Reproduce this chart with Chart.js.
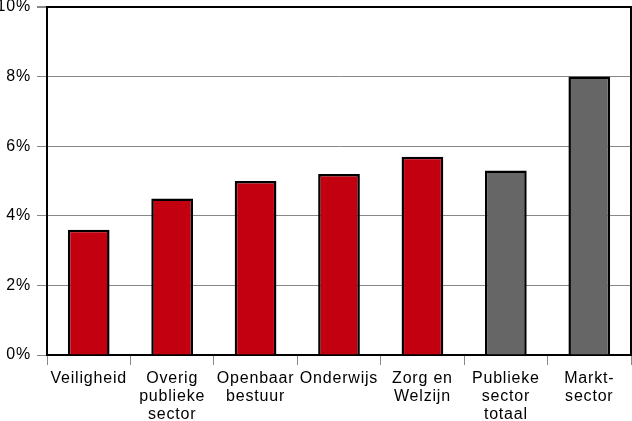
<!DOCTYPE html>
<html>
<head>
<meta charset="utf-8">
<script src="https://cdn.jsdelivr.net/npm/chart.js@4/dist/chart.umd.min.js"></script>
<style>
  html, body { margin: 0; padding: 0; background: #fff; }
  canvas { display: block; }
</style>
</head>
<body>
<canvas id="c" width="632" height="421"></canvas>
<script>
const categories = [
  'Veiligheid',
  ['Overig', 'publieke', 'sector'],
  ['Openbaar', 'bestuur'],
  'Onderwijs',
  ['Zorg en', 'Welzijn'],
  ['Publieke', 'sector', 'totaal'],
  ['Markt-', 'sector']
];
const values = [3.6, 4.5, 5.0, 5.2, 5.7, 5.3, 8.0];
const barColors = ['#c3000f', '#c3000f', '#c3000f', '#c3000f', '#c3000f', '#666666', '#666666'];
const yTicks = [0, 2, 4, 6, 8, 10];

const spacing = {
  id: 'spacing',
  beforeLayout(chart) { chart.ctx.letterSpacing = '0.8px'; },
  beforeDraw(chart) { chart.ctx.letterSpacing = '0.8px'; }
};

const font = { family: '"Liberation Sans", Arial, sans-serif', size: 16, lineHeight: 1.125 };

new Chart(document.getElementById('c'), {
  type: 'bar',
  data: {
    labels: categories,
    datasets: [{
      data: values,
      backgroundColor: barColors,
      borderColor: '#000',
      borderWidth: 2.5,
      categoryPercentage: 1,
      barPercentage: 0.5
    }]
  },
  options: {
    responsive: false,
    animation: false,
    layout: { padding: { top: 7, right: 0, left: 0, bottom: 0 } },
    plugins: { legend: { display: false }, tooltip: { enabled: false } },
    scales: {
      x: {
        grid: { drawOnChartArea: false, color: '#888', tickLength: 10, offset: true },
        border: { color: '#000', width: 2 },
        ticks: { color: '#000', font: font, maxRotation: 0, autoSkip: false, padding: 5 },
        afterFit(s) { s.height = 66; s.paddingLeft = 0; s.paddingRight = 0; }
      },
      y: {
        min: 0,
        max: 10,
        afterBuildTicks(s) { s.ticks = yTicks.map(v => ({ value: v })); },
        grid: {
          color: c => (c.tick && c.tick.value === 10 ? '#000' : '#888'),
          lineWidth: c => (c.tick && c.tick.value === 10 ? 2 : 1),
          tickColor: '#888',
          tickLength: 10
        },
        border: { color: '#000', width: 2 },
        ticks: { color: '#000', font: font, padding: 6, callback: v => v + '%' },
        afterFit(s) { s.width = 47; s.paddingTop = 0; s.paddingBottom = 0; }
      },
      y2: {
        position: 'right',
        min: 0,
        max: 10,
        grid: { drawOnChartArea: false, drawTicks: false },
        border: { color: '#000', width: 2 },
        ticks: { display: false },
        afterFit(s) { s.width = 1; s.paddingTop = 0; s.paddingBottom = 0; }
      }
    }
  },
  plugins: [spacing]
});
</script>
</body>
</html>
